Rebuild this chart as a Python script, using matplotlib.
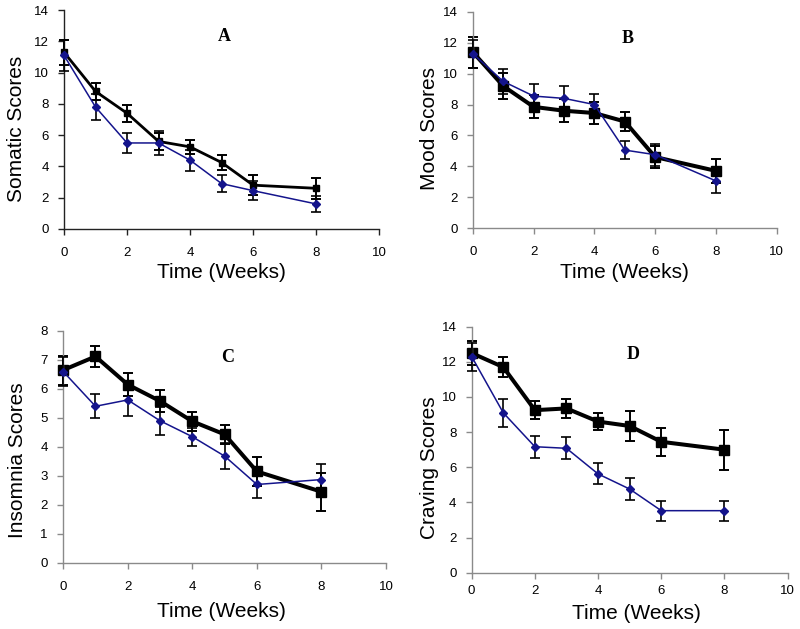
import matplotlib
matplotlib.use("Agg")
import matplotlib.pyplot as plt

weeks = [0, 1, 2, 3, 4, 5, 6, 8]

somatic_black = [11.3, 8.8, 7.4, 5.6, 5.25, 4.25, 2.8, 2.6]
somatic_black_err = [0.8, 0.55, 0.54, 0.54, 0.45, 0.45, 0.64, 0.68]
somatic_blue = [11.1, 7.8, 5.5, 5.5, 4.4, 2.9, 2.45, 1.6]
somatic_blue_err = [1.0, 0.85, 0.64, 0.75, 0.68, 0.53, 0.6, 0.49]

mood_black = [11.4, 9.2, 7.85, 7.6, 7.45, 6.9, 4.6, 3.7]
mood_black_err = [1.0, 0.85, 0.75, 0.75, 0.7, 0.6, 0.7, 0.8]
mood_blue = [11.3, 9.5, 8.55, 8.4, 8.0, 5.05, 4.75, 3.05]
mood_blue_err = [0.9, 0.82, 0.76, 0.78, 0.69, 0.6, 0.7, 0.78]

insomnia_black = [6.65, 7.12, 6.15, 5.58, 4.88, 4.43, 3.15, 2.45]
insomnia_black_err = [0.5, 0.37, 0.4, 0.38, 0.32, 0.34, 0.5, 0.65]
insomnia_blue = [6.6, 5.4, 5.62, 4.9, 4.35, 3.68, 2.7, 2.87]
insomnia_blue_err = [0.5, 0.42, 0.54, 0.48, 0.31, 0.45, 0.48, 0.55]

craving_black = [12.5, 11.7, 9.25, 9.35, 8.6, 8.35, 7.45, 7.0]
craving_black_err = [0.68, 0.57, 0.51, 0.53, 0.47, 0.85, 0.8, 1.14]
craving_blue = [12.3, 9.1, 7.17, 7.08, 5.62, 4.76, 3.53, 3.53]
craving_blue_err = [0.8, 0.8, 0.63, 0.63, 0.6, 0.63, 0.57, 0.57]

# letter, ylabel, ymax, ystep, data..., axes rect, letter pos, ylabel coords, xlabel coords, style
panels = [
    ("A", "Somatic Scores", 14, 2, somatic_black, somatic_black_err, somatic_blue, somatic_blue_err,
     [0.080, 0.636, 0.394, 0.348], (5.1, 12.3), (-0.152, 0.459), (0.5, -0.201),
     "#222222", 2.0, 5.0, 9),
    ("B", "Mood Scores", 14, 2, mood_black, mood_black_err, mood_blue, mood_blue_err,
     [0.591, 0.6375, 0.380, 0.3435], (5.1, 12.3), (-0.142, 0.46), (0.5, -0.208),
     "#8a8a8a", 2.9, 6.5, 9),
    ("C", "Insomnia Scores", 8, 1, insomnia_black, insomnia_black_err, insomnia_blue, insomnia_blue_err,
     [0.079, 0.1054, 0.4035, 0.3684], (5.1, 7.1), (-0.143, 0.443), (0.489, -0.211),
     "#8a8a8a", 2.9, 6.5, 9),
    ("D", "Craving Scores", 14, 2, craving_black, craving_black_err, craving_blue, craving_blue_err,
     [0.5896, 0.0895, 0.395, 0.3911], (5.1, 12.4), (-0.133, 0.428), (0.522, -0.165),
     "#8a8a8a", 2.9, 6.5, 4.5),
]

fig = plt.figure(figsize=(8.0, 6.29), dpi=100)
sans = ["Liberation Sans", "DejaVu Sans"]
serif = ["Liberation Serif", "DejaVu Serif"]
navy = "#14148c"

for (letter, ylabel, ymax, ystep, bk, bke, bl, ble, pos, lpos, ylc, xlc,
     spc, blw, bms, xpad) in panels:
    ax = fig.add_axes(pos)
    e1 = ax.errorbar(weeks, bl, yerr=ble, color=navy, lw=1.1, marker="D", ms=4.5,
                     ecolor="black", elinewidth=1.2, capsize=3.8, capthick=1.2, zorder=3)
    e2 = ax.errorbar(weeks, bk, yerr=bke, color="black", lw=blw, marker="s", ms=bms,
                     ecolor="black", elinewidth=1.4, capsize=3.8, capthick=1.4, zorder=2)
    for cont in (e1, e2):
        for art in cont.get_children():
            art.set_clip_on(False)
    ax.set_xlim(0, 10)
    ax.set_ylim(0, ymax)
    ax.set_xticks(range(0, 11, 2))
    ax.set_yticks(range(0, ymax + 1, ystep))
    for s in ("top", "right"):
        ax.spines[s].set_visible(False)
    for s in ("left", "bottom"):
        ax.spines[s].set_color(spc)
        ax.spines[s].set_linewidth(1.0)
    ax.tick_params(direction="out", length=4, width=1.0, color=spc, labelsize=9.5)
    ax.tick_params(axis="x", pad=xpad)
    ax.tick_params(axis="y", pad=7)
    for lab in ax.get_xticklabels() + ax.get_yticklabels():
        lab.set_family(sans)
    ax.set_xlabel("Time (Weeks)", fontsize=15, family=sans)
    ax.set_ylabel(ylabel, fontsize=15, family=sans)
    ax.xaxis.set_label_coords(*xlc)
    ax.xaxis.label.set_verticalalignment("center")
    ax.yaxis.set_label_coords(*ylc)
    ax.yaxis.label.set_verticalalignment("center")
    ax.text(lpos[0], lpos[1], letter, fontsize=13, fontweight="bold", family=serif,
            ha="center", va="center")
    ax.patch.set_alpha(0)

fig.savefig("out.png", dpi=100)
